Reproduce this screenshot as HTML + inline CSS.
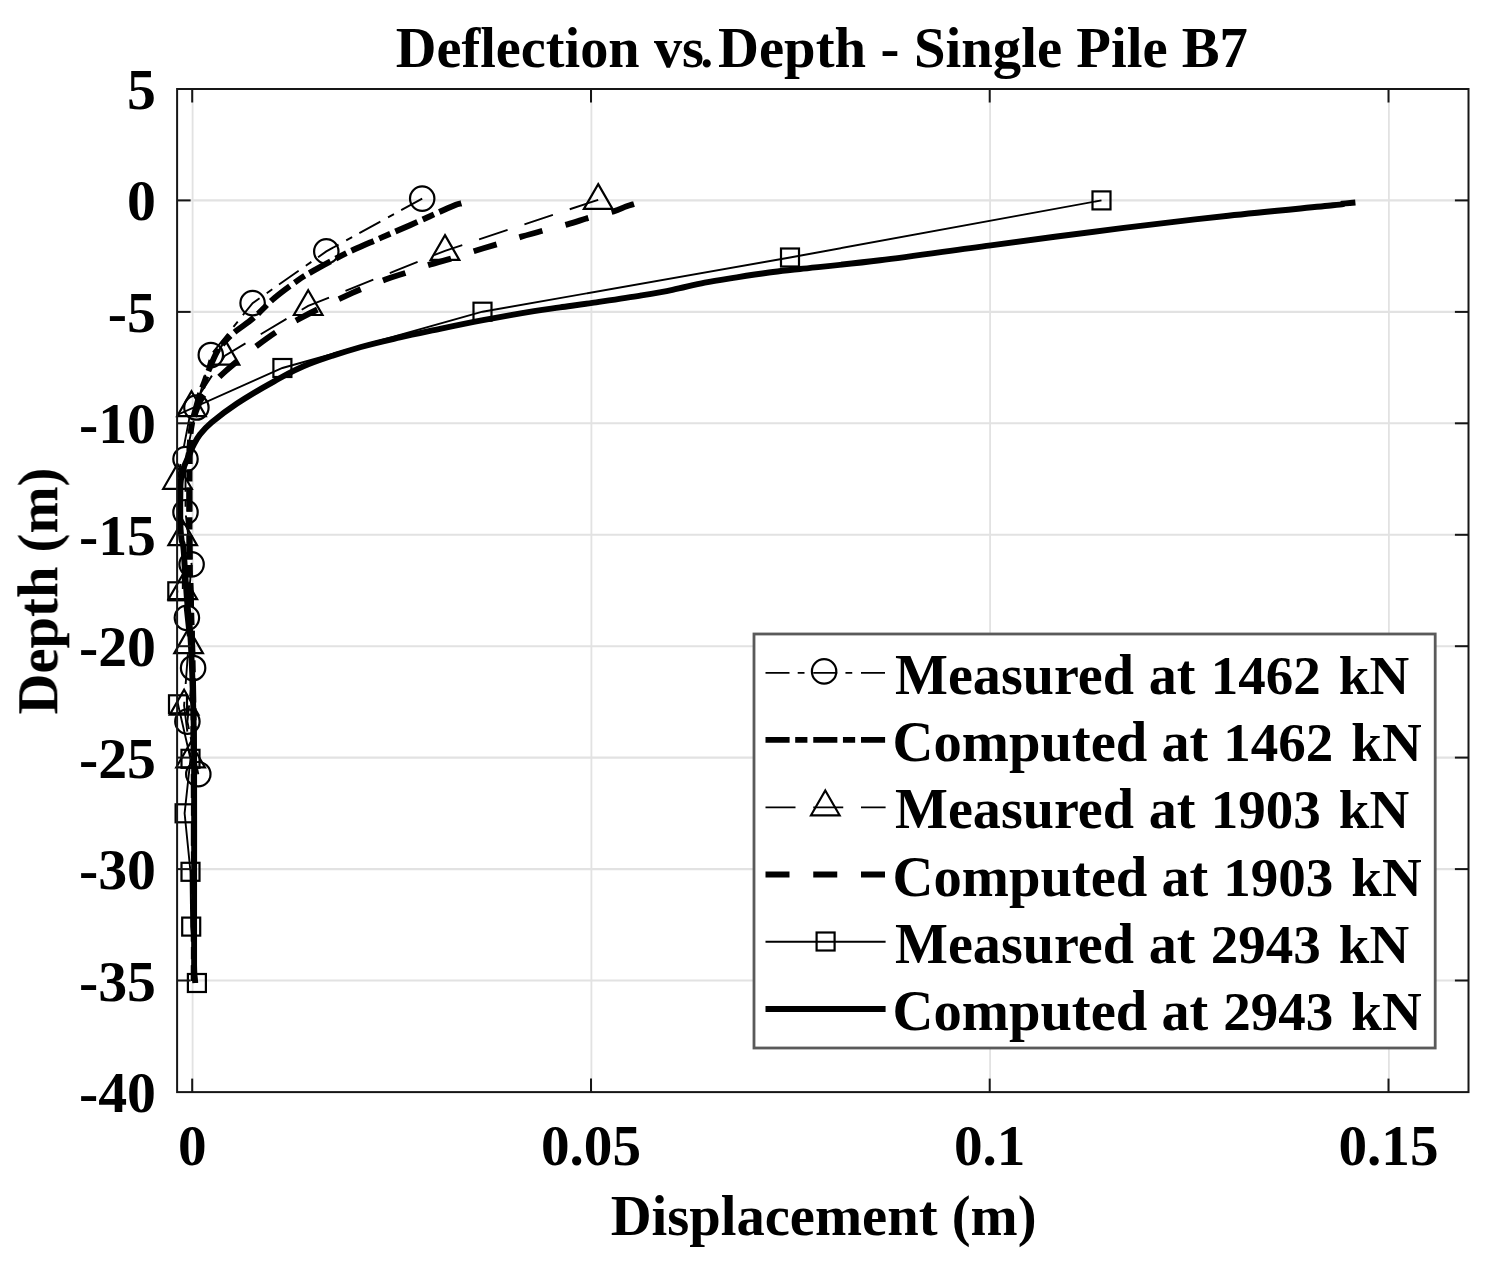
<!DOCTYPE html>
<html lang="en"><head><meta charset="utf-8"><title>Deflection vs. Depth - Single Pile B7</title>
<style>html,body{margin:0;padding:0;background:#fff;}body{width:1493px;height:1267px;overflow:hidden;}svg{display:block;}text{font-family:"Liberation Serif", serif;font-weight:bold;fill:#000;}</style>
</head><body>
<svg width="1493" height="1267" viewBox="0 0 1493 1267">
<rect x="0" y="0" width="1493" height="1267" fill="#fff"/>
<defs><filter id="soft" x="0" y="0" width="1493" height="1267" filterUnits="userSpaceOnUse"><feGaussianBlur stdDeviation="0.55"/></filter><clipPath id="axclip"><rect x="177.1" y="89.0" width="1291.4" height="1003.1"/></clipPath></defs>
<g filter="url(#soft)">
<g stroke="#e2e2e2" fill="none">
<line stroke-width="1.8" x1="192.6" y1="89.0" x2="192.6" y2="1092.1"/>
<line stroke-width="1.8" x1="591.4" y1="89.0" x2="591.4" y2="1092.1"/>
<line stroke-width="1.8" x1="990.1" y1="89.0" x2="990.1" y2="1092.1"/>
<line stroke-width="1.8" x1="1388.9" y1="89.0" x2="1388.9" y2="1092.1"/>
<line stroke-width="2.1" x1="177.1" y1="200.4" x2="1468.4" y2="200.4"/>
<line stroke-width="2.1" x1="177.1" y1="311.9" x2="1468.4" y2="311.9"/>
<line stroke-width="2.1" x1="177.1" y1="423.3" x2="1468.4" y2="423.3"/>
<line stroke-width="2.1" x1="177.1" y1="534.8" x2="1468.4" y2="534.8"/>
<line stroke-width="2.1" x1="177.1" y1="646.2" x2="1468.4" y2="646.2"/>
<line stroke-width="2.1" x1="177.1" y1="757.6" x2="1468.4" y2="757.6"/>
<line stroke-width="2.1" x1="177.1" y1="869.1" x2="1468.4" y2="869.1"/>
<line stroke-width="2.1" x1="177.1" y1="980.5" x2="1468.4" y2="980.5"/>
</g>
<g fill="none" stroke="#000" stroke-linejoin="miter">
<path clip-path="url(#axclip)" d="M422.2 198.6 L326.3 251.4 L252.6 303.1 L210.8 355.0 L196.4 407.5 L185.5 459.1 L185.5 512.2 L191.6 564.3 L186.9 617.8 L193.1 668.0 L187.4 721.6 L198.3 774.2" stroke-width="1.90" stroke-dasharray="24 8.2 6.8 8.75"/>
<g stroke-width="2.20"><circle cx="422.2" cy="198.6" r="12.2"/><circle cx="326.3" cy="251.4" r="12.2"/><circle cx="252.6" cy="303.1" r="12.2"/><circle cx="210.8" cy="355.0" r="12.2"/><circle cx="196.4" cy="407.5" r="12.2"/><circle cx="185.5" cy="459.1" r="12.2"/><circle cx="185.5" cy="512.2" r="12.2"/><circle cx="191.6" cy="564.3" r="12.2"/><circle cx="186.9" cy="617.8" r="12.2"/><circle cx="193.1" cy="668.0" r="12.2"/><circle cx="187.4" cy="721.6" r="12.2"/><circle cx="198.3" cy="774.2" r="12.2"/></g>
<path clip-path="url(#axclip)" d="M461.4 203.5 C460.0 203.9 461.6 202.4 453.0 206.0 C444.4 209.6 421.9 220.0 410.0 225.2 C398.1 230.4 391.2 233.3 381.9 237.4 C372.6 241.5 362.2 245.8 354.1 249.5 C346.0 253.2 340.0 256.4 333.3 259.9 C326.6 263.4 319.9 267.1 314.1 270.4 C308.3 273.7 305.1 275.3 298.5 279.9 C291.9 284.5 281.7 291.8 274.2 298.2 C266.7 304.6 259.8 312.6 253.4 318.1 C247.0 323.6 240.6 327.3 236.0 331.1 C231.4 334.9 228.8 337.2 225.6 340.7 C222.4 344.2 219.7 347.2 216.9 352.0 C214.2 356.8 211.3 364.2 209.1 369.4 C206.9 374.6 205.5 379.0 203.9 383.3 C202.3 387.6 200.8 391.3 199.5 395.4 C198.2 399.4 197.2 403.2 196.0 407.6 C194.8 412.0 193.2 417.3 192.3 422.0 C191.4 426.7 190.8 430.5 190.3 436.0 C189.9 441.5 189.7 444.3 189.6 455.0 C189.5 465.7 189.5 482.5 189.5 500.0 C189.5 517.5 189.4 540.0 189.7 560.0 C190.0 580.0 190.9 600.0 191.5 620.0 C192.1 640.0 192.6 656.7 193.0 680.0 C193.4 703.3 193.7 709.8 193.8 760.0 C193.9 810.2 193.8 944.2 193.8 981.0" stroke-width="5.90" stroke-dasharray="24.1 5.6 12.2 5.85"/>
<path clip-path="url(#axclip)" d="M598.2 199.8 L445.0 250.8 L308.2 305.9 L225.0 355.6 L191.5 407.0 L177.5 479.7 L182.7 536.0 L182.8 590.1 L188.6 644.0 L184.1 705.5 L190.6 758.2" stroke-width="1.90" stroke-dasharray="30 17.75"/>
<g stroke-width="2.20"><path d="M598.2 184.1 L612.5 208.9 L583.9 208.9 Z"/><path d="M445.0 235.1 L459.3 259.9 L430.7 259.9 Z"/><path d="M308.2 290.2 L322.5 315.0 L293.9 315.0 Z"/><path d="M225.0 339.9 L239.3 364.7 L210.7 364.7 Z"/><path d="M191.5 391.3 L205.8 416.1 L177.2 416.1 Z"/><path d="M177.5 464.0 L191.8 488.8 L163.2 488.8 Z"/><path d="M182.7 520.3 L197.0 545.1 L168.4 545.1 Z"/><path d="M182.8 574.4 L197.1 599.2 L168.5 599.2 Z"/><path d="M188.6 628.3 L202.9 653.1 L174.3 653.1 Z"/><path d="M184.1 689.8 L198.4 714.6 L169.8 714.6 Z"/><path d="M190.6 742.5 L204.9 767.3 L176.3 767.3 Z"/></g>
<path clip-path="url(#axclip)" d="M634.0 204.0 C632.7 204.4 629.4 205.3 626.0 206.5 C622.6 207.7 619.6 209.6 613.6 211.4 C607.6 213.2 597.7 215.2 590.0 217.4 C582.3 219.6 575.2 222.2 567.5 224.3 C559.8 226.5 551.7 228.2 544.0 230.3 C536.3 232.4 529.1 234.4 521.4 236.7 C513.7 239.0 505.6 241.7 497.9 244.0 C490.2 246.3 482.9 248.4 475.4 250.7 C467.9 253.0 460.4 255.7 452.9 258.0 C445.4 260.3 438.1 262.0 430.4 264.4 C422.7 266.8 414.3 270.0 406.8 272.5 C399.3 275.0 394.5 276.2 385.4 279.6 C376.3 283.0 366.3 286.6 352.4 292.9 C338.5 299.2 316.2 309.8 302.0 317.3 C287.8 324.8 280.0 329.1 267.3 338.1 C254.6 347.1 236.0 361.8 225.6 371.1 C215.2 380.4 209.5 387.2 204.7 393.7 C199.8 400.2 198.7 404.3 196.5 410.0 C194.3 415.7 192.6 422.2 191.5 428.0 C190.4 433.8 190.2 438.0 189.8 445.0 C189.4 452.0 189.4 459.2 189.3 470.0 C189.2 480.8 189.2 495.0 189.3 510.0 C189.4 525.0 189.3 541.7 189.7 560.0 C190.1 578.3 190.9 596.7 191.5 620.0 C192.1 643.3 192.6 673.3 193.0 700.0 C193.4 726.7 193.7 733.2 193.8 780.0 C193.9 826.8 193.8 947.5 193.8 981.0" stroke-width="5.90" stroke-dasharray="24 23.75"/>
<path clip-path="url(#axclip)" d="M1101.5 200.4 L790.0 257.5 L482.5 311.7 L282.4 368.0 L158.0 423.5 L165.0 479.3 L168.0 535.0 L177.3 591.3 L172.0 646.5 L178.0 704.3 L190.5 758.8 L184.6 813.3 L190.5 871.8 L191.2 926.6 L196.9 983.0" stroke-width="1.90"/>
<g stroke-width="2.20"><rect x="1092.5" y="191.4" width="18.0" height="18.0"/><rect x="781.0" y="248.5" width="18.0" height="18.0"/><rect x="473.5" y="302.7" width="18.0" height="18.0"/><rect x="273.4" y="359.0" width="18.0" height="18.0"/><rect x="168.3" y="582.3" width="18.0" height="18.0"/><rect x="169.0" y="695.3" width="18.0" height="18.0"/><rect x="181.5" y="749.8" width="18.0" height="18.0"/><rect x="175.6" y="804.3" width="18.0" height="18.0"/><rect x="181.5" y="862.8" width="18.0" height="18.0"/><rect x="182.2" y="917.6" width="18.0" height="18.0"/><rect x="187.9" y="974.0" width="18.0" height="18.0"/></g>
<path clip-path="url(#axclip)" d="M1355.4 202.5 C1353.3 202.7 1346.8 203.1 1343.0 203.6 C1339.2 204.1 1351.9 203.3 1332.8 205.3 C1313.7 207.3 1263.1 211.9 1228.3 215.7 C1193.5 219.5 1163.4 223.0 1123.8 227.9 C1084.2 232.8 1031.4 239.9 990.8 245.3 C950.2 250.7 911.8 256.4 880.0 260.3 C848.2 264.2 818.5 267.0 800.0 269.0 C781.5 271.0 779.5 271.1 769.0 272.5 C758.5 273.9 747.5 275.6 736.8 277.3 C726.1 279.0 715.4 280.5 704.7 282.6 C694.0 284.7 683.2 287.7 672.5 289.9 C661.8 292.1 653.8 293.4 640.4 295.6 C627.0 297.8 605.6 300.9 592.2 302.9 C578.8 304.9 569.7 306.0 560.0 307.4 C550.3 308.8 546.8 309.0 534.0 311.1 C521.2 313.2 498.7 317.2 483.0 320.2 C467.3 323.2 453.8 326.0 440.0 328.9 C426.2 331.8 413.2 334.4 400.0 337.4 C386.8 340.4 376.2 342.6 361.0 347.0 C345.8 351.4 323.4 358.4 308.9 364.1 C294.4 369.8 286.2 374.7 274.2 381.3 C262.2 387.9 247.4 396.6 237.0 403.5 C226.6 410.4 217.7 417.3 211.5 422.5 C205.3 427.7 202.8 430.8 199.8 434.6 C196.8 438.4 195.3 441.8 193.4 445.5 C191.5 449.2 190.0 453.2 188.4 456.9 C186.8 460.6 185.0 463.9 183.8 467.5 C182.6 471.1 181.8 474.4 181.2 478.2 C180.6 481.9 180.5 482.2 180.4 490.0 C180.3 497.8 180.2 516.7 180.4 525.0 C180.6 533.3 181.1 535.8 181.6 540.0 C182.1 544.2 182.7 540.0 183.6 550.0 C184.5 560.0 185.9 586.7 187.0 600.0 C188.1 613.3 189.0 615.0 190.0 630.0 C191.0 645.0 192.1 668.3 192.8 690.0 C193.5 711.7 193.9 725.0 194.1 760.0 C194.3 795.0 194.1 865.8 194.1 900.0 C194.1 934.2 193.9 951.2 194.1 965.0 C194.3 978.8 195.1 980.0 195.3 983.0" stroke-width="5.90"/>
</g>
<g stroke="#151515" stroke-width="2" fill="none">
<rect x="177.1" y="89.0" width="1291.4" height="1003.1"/>
<line x1="192.2" y1="89.0" x2="192.2" y2="102.5"/>
<line x1="192.2" y1="1092.1" x2="192.2" y2="1078.6"/>
<line x1="591.0" y1="89.0" x2="591.0" y2="102.5"/>
<line x1="591.0" y1="1092.1" x2="591.0" y2="1078.6"/>
<line x1="989.7" y1="89.0" x2="989.7" y2="102.5"/>
<line x1="989.7" y1="1092.1" x2="989.7" y2="1078.6"/>
<line x1="1388.5" y1="89.0" x2="1388.5" y2="102.5"/>
<line x1="1388.5" y1="1092.1" x2="1388.5" y2="1078.6"/>
<line x1="177.1" y1="200.4" x2="190.6" y2="200.4"/>
<line x1="1468.4" y1="200.4" x2="1454.9" y2="200.4"/>
<line x1="177.1" y1="311.9" x2="190.6" y2="311.9"/>
<line x1="1468.4" y1="311.9" x2="1454.9" y2="311.9"/>
<line x1="177.1" y1="423.3" x2="190.6" y2="423.3"/>
<line x1="1468.4" y1="423.3" x2="1454.9" y2="423.3"/>
<line x1="177.1" y1="534.8" x2="190.6" y2="534.8"/>
<line x1="1468.4" y1="534.8" x2="1454.9" y2="534.8"/>
<line x1="177.1" y1="646.2" x2="190.6" y2="646.2"/>
<line x1="1468.4" y1="646.2" x2="1454.9" y2="646.2"/>
<line x1="177.1" y1="757.6" x2="190.6" y2="757.6"/>
<line x1="1468.4" y1="757.6" x2="1454.9" y2="757.6"/>
<line x1="177.1" y1="869.1" x2="190.6" y2="869.1"/>
<line x1="1468.4" y1="869.1" x2="1454.9" y2="869.1"/>
<line x1="177.1" y1="980.5" x2="190.6" y2="980.5"/>
<line x1="1468.4" y1="980.5" x2="1454.9" y2="980.5"/>
</g>
<g font-size="57.8">
<text x="156.0" y="109.0" text-anchor="end">5</text>
<text x="156.0" y="220.4" text-anchor="end">0</text>
<text x="156.0" y="331.9" text-anchor="end">-5</text>
<text x="156.0" y="443.3" text-anchor="end">-10</text>
<text x="156.0" y="554.8" text-anchor="end">-15</text>
<text x="156.0" y="666.2" text-anchor="end">-20</text>
<text x="156.0" y="777.6" text-anchor="end">-25</text>
<text x="156.0" y="889.1" text-anchor="end">-30</text>
<text x="156.0" y="1000.5" text-anchor="end">-35</text>
<text x="156.0" y="1112.0" text-anchor="end">-40</text>
<text x="192.2" y="1165.3" font-size="57.2" text-anchor="middle">0</text>
<text x="591.0" y="1165.3" font-size="57.2" text-anchor="middle">0.05</text>
<text x="989.7" y="1165.3" font-size="57.2" text-anchor="middle">0.1</text>
<text x="1388.5" y="1165.3" font-size="57.2" text-anchor="middle">0.15</text>
</g>
<text x="823.6" y="1235.4" font-size="56.6" text-anchor="middle">Displacement (m)</text>
<text transform="translate(57.3,591) rotate(-90)" font-size="56.6" text-anchor="middle">Depth (m)</text>
<text y="66.7" font-size="56.7"><tspan x="395.8" font-size="56.3">Deflection </tspan><tspan x="653.9" font-size="56.3">vs</tspan><tspan x="700.5" font-size="50.0">. </tspan><tspan x="718.0" font-size="56.7">Depth </tspan><tspan x="880.5" font-size="56.7">- </tspan><tspan x="914.0" font-size="56.7">Single </tspan><tspan x="1076.3" font-size="56.7">Pile </tspan><tspan x="1181.8" font-size="56.7">B7</tspan></text>
<rect x="754.0" y="634.0" width="681.2" height="414.0" fill="#fff" stroke="#5a5a5a" stroke-width="2.8"/>
<g fill="none" stroke="#000">
<line x1="765.5" y1="672.9" x2="885.6" y2="672.9" stroke-width="1.90" stroke-dasharray="24 8.2 6.8 8.75"/>
<g stroke-width="2.20"><circle cx="824.1" cy="671.4" r="12.2"/></g>
<line x1="765.5" y1="739.9" x2="885.6" y2="739.9" stroke-width="5.90" stroke-dasharray="24.1 5.6 12.2 5.85"/>
<line x1="765.5" y1="807.4" x2="885.6" y2="807.4" stroke-width="1.90" stroke-dasharray="30 17.75"/>
<g stroke-width="2.20"><path d="M825.3 790.5 L839.6 815.3 L811.0 815.3 Z"/></g>
<line x1="765.5" y1="874.5" x2="885.6" y2="874.5" stroke-width="5.90" stroke-dasharray="24 23.75"/>
<line x1="765.5" y1="941.7" x2="885.6" y2="941.7" stroke-width="1.90"/>
<g stroke-width="2.20"><rect x="816.6" y="932.5" width="18.0" height="18.0"/></g>
<line x1="765.5" y1="1009.0" x2="885.6" y2="1009.0" stroke-width="5.90"/>
</g>
<g font-size="56.1">
<text y="693.9"><tspan x="895.0" font-size="56.1">Measured </tspan><tspan x="1148.7" font-size="56.1">at </tspan><tspan x="1210.8" font-size="55.0">1462 </tspan><tspan x="1338.8" font-size="55.0">kN</tspan></text>
<text y="760.9"><tspan x="892.6" font-size="56.6">Computed </tspan><tspan x="1161.4" font-size="56.1">at </tspan><tspan x="1223.3" font-size="55.0">1462 </tspan><tspan x="1351.3" font-size="55.0">kN</tspan></text>
<text y="828.4"><tspan x="895.0" font-size="56.1">Measured </tspan><tspan x="1148.7" font-size="56.1">at </tspan><tspan x="1210.8" font-size="55.0">1903 </tspan><tspan x="1338.8" font-size="55.0">kN</tspan></text>
<text y="895.5"><tspan x="892.6" font-size="56.6">Computed </tspan><tspan x="1161.4" font-size="56.1">at </tspan><tspan x="1223.3" font-size="55.0">1903 </tspan><tspan x="1351.3" font-size="55.0">kN</tspan></text>
<text y="962.7"><tspan x="895.0" font-size="56.1">Measured </tspan><tspan x="1148.7" font-size="56.1">at </tspan><tspan x="1210.8" font-size="55.0">2943 </tspan><tspan x="1338.8" font-size="55.0">kN</tspan></text>
<text y="1030.0"><tspan x="892.6" font-size="56.6">Computed </tspan><tspan x="1161.4" font-size="56.1">at </tspan><tspan x="1223.3" font-size="55.0">2943 </tspan><tspan x="1351.3" font-size="55.0">kN</tspan></text>
</g>
</g>
</svg></body></html>
